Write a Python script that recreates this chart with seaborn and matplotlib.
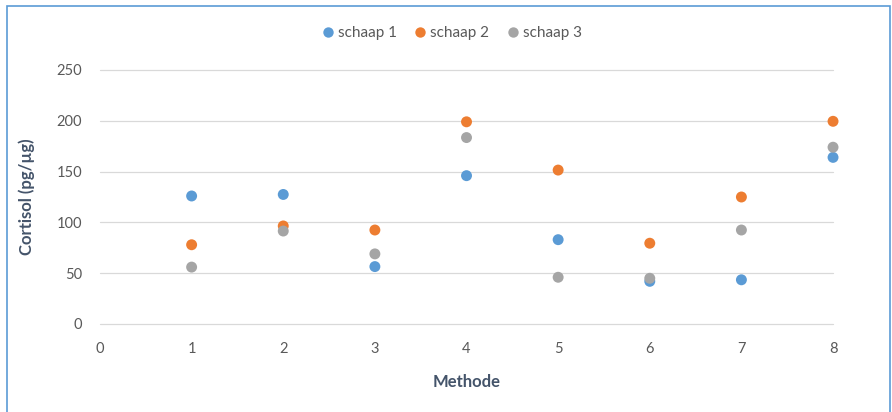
import pandas as pd
import matplotlib
matplotlib.use("Agg")
import matplotlib.pyplot as plt
import seaborn as sns
from matplotlib.patches import Rectangle

sns.set_style("white")
plt.rcParams['font.family'] = ['Lato', 'DejaVu Sans']

# data
methode = [1, 2, 3, 4, 5, 6, 7, 8]
schaap_1 = [126, 127.5, 56.5, 146, 83, 42, 43.5, 164]
schaap_2 = [78, 96.5, 92.5, 199, 151.5, 79.5, 125, 199.5]
schaap_3 = [56, 91.5, 69, 183.5, 46, 45, 92.5, 174]
series_names = ["schaap 1", "schaap 2", "schaap 3"]
colors = ["#5B9BD5", "#ED7D31", "#A5A5A5"]

df = pd.concat([
    pd.DataFrame({"Methode": methode, "Cortisol": vals, "serie": name})
    for name, vals in zip(series_names, [schaap_1, schaap_2, schaap_3])
])

fig = plt.figure(figsize=(8.92, 4.12), dpi=100)
ax = fig.add_axes([0.1121, 0.2136, 0.8218, 0.6165])

sns.scatterplot(data=df, x="Methode", y="Cortisol", hue="serie",
                palette=colors, s=62, edgecolor="none", linewidth=0,
                clip_on=False, zorder=3, ax=ax)

ax.set_xlim(0, 8)
ax.set_ylim(0, 250)
ax.set_xticks(range(0, 9))
ax.set_yticks(range(0, 251, 50))
ax.yaxis.grid(True, color="#D9D9D9", linewidth=0.9)
ax.xaxis.grid(False)
for gl in ax.get_ygridlines():
    gl.set_clip_on(False)
ax.set_axisbelow(True)
for s in ax.spines.values():
    s.set_visible(False)
ax.tick_params(axis="both", length=0, labelsize=10.5, labelcolor="#595959")
ax.tick_params(axis="y", pad=13)
ax.tick_params(axis="x", pad=13)

ax.set_xlabel("Methode", fontsize=12, fontweight="bold", color="#44546A", labelpad=13)
ax.set_ylabel("Cortisol (pg/µg)", fontsize=12, fontweight="bold", color="#44546A", labelpad=15)

handles, labels = ax.get_legend_handles_labels()
ax.get_legend().remove()
fig.legend(handles, labels, loc="center", bbox_to_anchor=(452 / 892, 1 - 33 / 412),
           ncol=3, frameon=False, fontsize=11, labelcolor="#595959",
           handlelength=0.7, handletextpad=0.3, columnspacing=1.2, markerscale=0.95)

# chart border
fig.patches.append(Rectangle((7 / 892, -0.02), 883 / 892, 1 - 6 / 412 + 0.02,
                             transform=fig.transFigure, fill=False,
                             edgecolor="#5B9BD5", linewidth=1.2))

fig.savefig("out.png", dpi=100)
